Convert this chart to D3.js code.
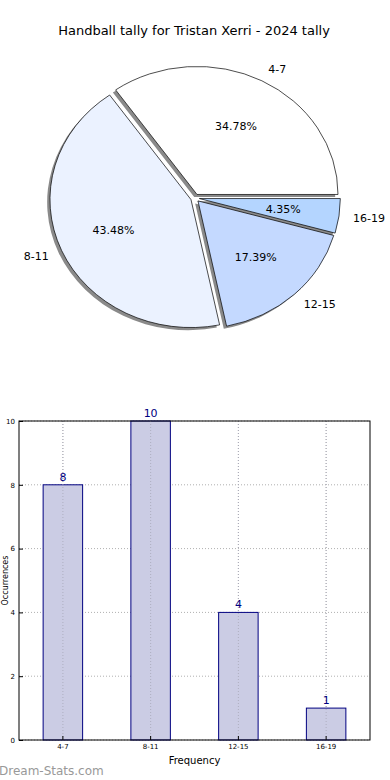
<!DOCTYPE html>
<html><head><meta charset="utf-8">
<script src="https://cdn.jsdelivr.net/npm/d3@7"></script>
<style>body{margin:0;background:#fff}svg{display:block}text{font-family:"DejaVu Sans",sans-serif}</style>
</head><body><svg id="c" width="390" height="780"></svg>
<script>
const categories = ["4-7","8-11","12-15","16-19"];
const counts = [8,10,4,1];
const pieColors = ["#ffffff","#ebf2ff","#c4d9ff","#b4d5ff"];
const yTicks = [0,2,4,6,8,10];
const title = "Handball tally for Tristan Xerri - 2024 tally";

const svg = d3.select("#c");
svg.append("text").attr("x",194).attr("y",35).attr("text-anchor","middle").attr("font-size",13).text(title);

// Pie
const cx=195, cy=198, rx=141, ry=128, explode=0.031;
const total = d3.sum(counts);
const pie = d3.pie().sort(null).startAngle(Math.PI/2).endAngle(Math.PI/2-2*Math.PI);
const arcs = pie(counts);
const arc = d3.arc().innerRadius(0).outerRadius(1);
const sx = d3.scaleLinear().domain([-1,1]).range([cx-rx,cx+rx]);
const sy = d3.scaleLinear().domain([-1,1]).range([cy-ry,cy+ry]);
const pg = svg.append("g");
arcs.forEach((a,i)=>{
  const m=(a.startAngle+a.endAngle)/2;
  const ox=explode*Math.sin(m), oy=-explode*Math.cos(m);
  const tx=sx(ox), ty=sy(oy);
  pg.append("path").attr("d",arc(a))
    .attr("transform",`translate(${tx-2.8},${ty+2.6}) scale(${rx},${ry})`)
    .attr("fill","#8a8a8a").attr("stroke","none");
});
arcs.forEach((a,i)=>{
  const m=(a.startAngle+a.endAngle)/2;
  const ox=explode*Math.sin(m), oy=-explode*Math.cos(m);
  const tx=sx(ox), ty=sy(oy);
  pg.append("path").attr("d",arc(a))
    .attr("transform",`translate(${tx},${ty}) scale(${rx},${ry})`)
    .attr("fill",pieColors[i]).attr("stroke","#000").attr("stroke-width",0.7)
    .attr("vector-effect","non-scaling-stroke");
});
arcs.forEach((a,i)=>{
  const m=(a.startAngle+a.endAngle)/2;
  const ux=Math.sin(m), uy=-Math.cos(m);
  const ox=explode*ux, oy=explode*uy;
  const lx=sx(ox+1.1*ux), ly=sy(oy+1.1*uy);
  pg.append("text").attr("x",lx).attr("y",ly).attr("dy","0.35em")
    .attr("text-anchor", ux>0?"start":"end").attr("font-size",11).text(categories[i]);
  const px=sx(ox+0.6*ux), py=sy(oy+0.6*uy);
  pg.append("text").attr("x",px).attr("y",py).attr("dy","0.35em")
    .attr("text-anchor","middle").attr("font-size",11)
    .text((counts[i]/total*100).toFixed(2)+"%");
});

// Bar chart
const L=19,R=370,T=421,B=740;
const x = d3.scaleBand().domain(categories).range([L,R]).paddingInner(0).paddingOuter(0);
const bw = x.bandwidth()*0.45;
const y = d3.scaleLinear().domain([0,10]).range([B,T]);
const bg = svg.append("g");
bg.selectAll(".hg").data(yTicks).join("line").attr("x1",L).attr("x2",R)
  .attr("y1",d=>y(d)).attr("y2",d=>y(d)).attr("stroke","#b0b0b0").attr("stroke-dasharray","1,2").attr("stroke-width",1);
bg.selectAll(".vg").data(categories).join("line").attr("y1",T).attr("y2",B)
  .attr("x1",d=>x(d)+x.bandwidth()/2).attr("x2",d=>x(d)+x.bandwidth()/2)
  .attr("stroke","#b0b0b0").attr("stroke-dasharray","1,2").attr("stroke-width",1);
bg.selectAll(".bar").data(counts).join("rect")
  .attr("x",(d,i)=>x(categories[i])+x.bandwidth()/2-bw/2).attr("width",bw)
  .attr("y",d=>y(d)).attr("height",d=>B-y(d))
  .attr("fill","#cbcce4").attr("stroke","#000080").attr("stroke-width",1);
bg.selectAll(".vg2").data(categories).join("line").attr("y1",T).attr("y2",B)
  .attr("x1",d=>x(d)+x.bandwidth()/2).attr("x2",d=>x(d)+x.bandwidth()/2)
  .attr("stroke","#a8a8b8").attr("stroke-dasharray","1,2").attr("stroke-width",1).attr("opacity",0.8);
bg.selectAll(".vl").data(counts).join("text")
  .attr("x",(d,i)=>x(categories[i])+x.bandwidth()/2).attr("y",d=>y(d)-4)
  .attr("text-anchor","middle").attr("font-size",11).attr("fill","#000080").text(d=>d);
bg.append("rect").attr("x",L).attr("y",T).attr("width",R-L).attr("height",B-T)
  .attr("fill","none").attr("stroke","#000").attr("stroke-width",1);
const ya = d3.axisLeft(y).tickValues(yTicks).tickSize(-4).tickPadding(4);
const yg = bg.append("g").attr("transform",`translate(${L},0)`).call(ya);
yg.select(".domain").remove();
yg.selectAll("text").attr("font-size",7).attr("font-family","DejaVu Sans");
const xa = d3.axisBottom(x).tickSize(-4).tickPadding(4);
const xg = bg.append("g").attr("transform",`translate(0,${B})`).call(xa);
xg.select(".domain").remove();
xg.selectAll("text").attr("font-size",7).attr("font-family","DejaVu Sans");
bg.append("text").attr("x",(L+R)/2).attr("y",764).attr("text-anchor","middle").attr("font-size",10).text("Frequency");
bg.append("text").attr("transform",`translate(8,${(T+B)/2}) rotate(-90)`).attr("text-anchor","middle").attr("font-size",8).text("Occurrences");
svg.append("text").attr("x",-1).attr("y",775).attr("font-size",12).attr("fill","#999").text("Dream-Stats.com");
</script></body></html>
